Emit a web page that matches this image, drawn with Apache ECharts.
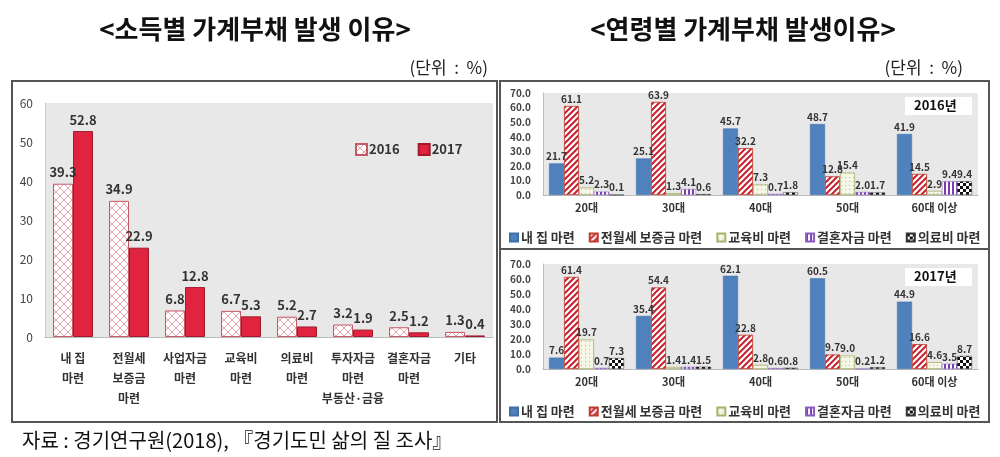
<!DOCTYPE html>
<html>
<head>
<meta charset="utf-8">
<script src="https://cdn.jsdelivr.net/npm/echarts@6/dist/echarts.min.js"></script>
<style>
  html, body { margin: 0; padding: 0; background: #fff; }
  #main { width: 1000px; height: 457px; }
</style>
</head>
<body>
<div id="main"></div>
<script>
// 소득별 가계부채 발생 이유
var incomeCategories = ['내 집\n마련', '전월세\n보증금\n마련', '사업자금\n마련', '교육비\n마련', '의료비\n마련', '투자자금\n마련\n부동산·금융', '결혼자금\n마련', '기타']
var income2016 = [39.3, 34.9, 6.8, 6.7, 5.2, 3.2, 2.5, 1.3]
var income2017 = [52.8, 22.9, 12.8, 5.3, 2.7, 1.9, 1.2, 0.4]
var incomeTicks = { min: 0, max: 60, interval: 10 }

// 연령별 가계부채 발생이유
var ageCategories = ['20대', '30대', '40대', '50대', '60대 이상']
var reasonNames = ['내 집 마련', '전월세 보증금 마련', '교육비 마련', '결혼자금 마련', '의료비 마련']
var home2016 = [21.7, 25.1, 45.7, 48.7, 41.9]
var deposit2016 = [61.1, 63.9, 32.2, 12.8, 14.5]
var edu2016 = [5.2, 1.3, 7.3, 15.4, 2.9]
var wedding2016 = [2.3, 4.1, 0.7, 2.0, 9.4]
var medical2016 = [0.1, 0.6, 1.8, 1.7, 9.4]
var home2017 = [7.6, 35.4, 62.1, 60.5, 44.9]
var deposit2017 = [61.4, 54.4, 22.8, 9.7, 16.6]
var edu2017 = [19.7, 1.4, 2.8, 9.0, 4.6]
var wedding2017 = [0.7, 1.4, 0.6, 0.2, 3.5]
var medical2017 = [7.3, 1.5, 0.8, 1.2, 8.7]
var ageTicks = { min: 0, max: 70, interval: 10 }

var FONT = '"Noto Sans CJK KR", "Noto Sans", sans-serif'

// 패턴 캔버스
function makePattern (w, h, draw) {
  var c = document.createElement('canvas')
  c.width = w
  c.height = h
  draw(c.getContext('2d'))
  return { image: c, repeat: 'repeat' }
}
var crossHatch = makePattern(8, 8, function (ctx) {
  ctx.fillStyle = '#fff'
  ctx.fillRect(0, 0, 8, 8)
  ctx.strokeStyle = '#e8a1aa'
  ctx.lineWidth = 1
  ctx.beginPath()
  ctx.moveTo(0, 0); ctx.lineTo(8, 8)
  ctx.moveTo(0, 8); ctx.lineTo(8, 0)
  ctx.stroke()
})
var redStripe = makePattern(6, 6, function (ctx) {
  ctx.fillStyle = '#fff'
  ctx.fillRect(0, 0, 6, 6)
  ctx.strokeStyle = '#c8202e'
  ctx.lineWidth = 2
  ctx.beginPath()
  ctx.moveTo(0, 6); ctx.lineTo(6, 0)
  ctx.moveTo(-3, 3); ctx.lineTo(3, -3)
  ctx.moveTo(3, 9); ctx.lineTo(9, 3)
  ctx.stroke()
})
var dots = makePattern(4, 4, function (ctx) {
  ctx.fillStyle = '#f6f6e6'
  ctx.fillRect(0, 0, 4, 4)
  ctx.fillStyle = '#bcbc92'
  ctx.fillRect(1, 1, 1, 1)
})
var purpleStripe = makePattern(4, 1, function (ctx) {
  ctx.fillStyle = '#fff'
  ctx.fillRect(0, 0, 4, 1)
  ctx.fillStyle = '#7a3cb0'
  ctx.fillRect(0, 0, 2, 1)
})
var checker = makePattern(6, 6, function (ctx) {
  ctx.fillStyle = '#fff'
  ctx.fillRect(0, 0, 6, 6)
  ctx.fillStyle = '#111'
  ctx.fillRect(0, 0, 3, 3)
  ctx.fillRect(3, 3, 3, 3)
})

var ageStyles = [
  { color: '#4f81bd', borderColor: '#3f6fa8', borderWidth: 0.5 },
  { color: redStripe, borderColor: '#c0392b', borderWidth: 0.8 },
  { color: dots, borderColor: '#a9b26a', borderWidth: 0.8 },
  { color: purpleStripe, borderColor: '#8a5cc0', borderWidth: 0.5 },
  { color: checker, borderColor: '#333', borderWidth: 0.5 }
]

function fmt1 (p) { return p.value.toFixed(1) }

function ageSeries (gridIdx, lists) {
  return lists.map(function (vals, i) {
    return {
      name: reasonNames[i],
      type: 'bar',
      xAxisIndex: gridIdx,
      yAxisIndex: gridIdx,
      data: vals,
      barWidth: 15,
      barGap: '0%',
      itemStyle: ageStyles[i],
      label: {
        show: true,
        position: 'top',
        distance: 2,
        formatter: fmt1,
        color: '#333',
        fontSize: 10,
        fontWeight: 'bold',
        fontFamily: FONT
      }
    }
  })
}

function ageXAxis (gridIdx) {
  return {
    type: 'category',
    gridIndex: gridIdx,
    data: ageCategories,
    axisLine: { lineStyle: { color: '#bbb' } },
    axisTick: { show: false },
    axisLabel: { color: '#333', fontSize: 11, fontWeight: 'bold', fontFamily: FONT, margin: 7 }
  }
}
function ageYAxis (gridIdx) {
  return {
    type: 'value',
    gridIndex: gridIdx,
    min: ageTicks.min,
    max: ageTicks.max,
    interval: ageTicks.interval,
    axisLine: { show: true, lineStyle: { color: '#bbb' } },
    axisTick: { show: false },
    splitLine: { show: false },
    axisLabel: {
      color: '#444',
      fontSize: 10,
      fontWeight: 'bold',
      fontFamily: FONT,
      margin: 12,
      formatter: function (v) { return v.toFixed(1) }
    }
  }
}
function ageLegend (top) {
  return {
    data: reasonNames,
    left: 504,
    top: top,
    itemWidth: 8,
    itemHeight: 8,
    itemGap: 14,
    icon: 'rect',
    textStyle: { color: '#333', fontSize: 13, fontWeight: 'bold', fontFamily: FONT, padding: [0, 0, 0, -2] }
  }
}

var myChart = echarts.init(document.getElementById('main'))

myChart.setOption({
  animation: false,
  backgroundColor: '#fff',
  grid: [
    { left: 45, right: 507, top: 103, bottom: 120, show: true, backgroundColor: '#e8e8e8', borderWidth: 0 },
    { left: 543, right: 22, top: 93, bottom: 262, show: true, backgroundColor: '#e8e8e8', borderWidth: 0 },
    { left: 543, right: 22, top: 264, bottom: 88, show: true, backgroundColor: '#e8e8e8', borderWidth: 0 }
  ],
  legend: [
    {
      data: ['2016', '2017'],
      left: 350,
      top: 138,
      itemWidth: 11,
      itemHeight: 11,
      itemGap: 18,
      icon: 'rect',
      textStyle: { color: '#333', fontSize: 13, fontWeight: 'bold', fontFamily: FONT, padding: [0, 0, 0, -3] }
    },
    ageLegend(226),
    ageLegend(400)
  ],
  xAxis: [
    {
      type: 'category',
      gridIndex: 0,
      data: incomeCategories,
      axisLine: { lineStyle: { color: '#bbb' } },
      axisTick: { show: false },
      axisLabel: { color: '#333', fontSize: 12, fontWeight: 'bold', fontFamily: FONT, lineHeight: 20, margin: 11, interval: 0 }
    },
    ageXAxis(1),
    ageXAxis(2)
  ],
  yAxis: [
    {
      type: 'value',
      gridIndex: 0,
      min: incomeTicks.min,
      max: incomeTicks.max,
      interval: incomeTicks.interval,
      axisLine: { show: true, lineStyle: { color: '#ccc' } },
      axisTick: { show: false },
      splitLine: { show: false },
      axisLabel: { color: '#444', fontSize: 12, fontFamily: FONT, margin: 12 }
    },
    ageYAxis(1),
    ageYAxis(2)
  ],
  series: [
    {
      name: '2016',
      type: 'bar',
      xAxisIndex: 0,
      yAxisIndex: 0,
      data: income2016,
      barWidth: 20,
      barGap: '0%',
      itemStyle: { color: crossHatch, borderColor: '#c45a66', borderWidth: 1 },
      label: { show: true, position: 'top', distance: 5, formatter: fmt1, color: '#333', fontSize: 13, fontWeight: 'bold', fontFamily: FONT }
    },
    {
      name: '2017',
      type: 'bar',
      xAxisIndex: 0,
      yAxisIndex: 0,
      data: income2017,
      barWidth: 20,
      barGap: '0%',
      itemStyle: { color: '#e0243f', borderColor: '#9e1a2c', borderWidth: 1 },
      label: { show: true, position: 'top', distance: 5, formatter: fmt1, color: '#333', fontSize: 13, fontWeight: 'bold', fontFamily: FONT }
    }
  ].concat(ageSeries(1, [home2016, deposit2016, edu2016, wedding2016, medical2016]))
    .concat(ageSeries(2, [home2017, deposit2017, edu2017, wedding2017, medical2017])),
  graphic: [
    // 제목
    { type: 'text', x: 255, y: 29, z: 10, style: { text: '<소득별 가계부채 발생 이유>', font: 'bold 26px ' + FONT, fill: '#111', align: 'center', verticalAlign: 'middle' } },
    { type: 'text', x: 743, y: 29, z: 10, style: { text: '<연령별 가계부채 발생이유>', font: 'bold 26px ' + FONT, fill: '#111', align: 'center', verticalAlign: 'middle' } },
    { type: 'text', x: 488, y: 68, z: 10, style: { text: '(단위  :  %)', font: '17px ' + FONT, fill: '#222', align: 'right', verticalAlign: 'middle' } },
    { type: 'text', x: 963, y: 68, z: 10, style: { text: '(단위  :  %)', font: '17px ' + FONT, fill: '#222', align: 'right', verticalAlign: 'middle' } },
    // 테두리
    { type: 'rect', z: -1, shape: { x: 12, y: 81, width: 485, height: 341 }, style: { fill: 'none', stroke: '#555', lineWidth: 2 } },
    { type: 'rect', z: -1, shape: { x: 500, y: 81, width: 489, height: 341 }, style: { fill: 'none', stroke: '#555', lineWidth: 2 } },
    { type: 'line', z: -1, shape: { x1: 500, y1: 249, x2: 989, y2: 249 }, style: { stroke: '#555', lineWidth: 2 } },
    // 연도 상자
    { type: 'rect', z: 10, shape: { x: 905, y: 97, width: 67, height: 18 }, style: { fill: '#fff' } },
    { type: 'text', z: 11, left: 914, top: 99, style: { text: '2016년', font: 'bold 13px ' + FONT, fill: '#111' } },
    { type: 'rect', z: 10, shape: { x: 905, y: 268, width: 67, height: 18 }, style: { fill: '#fff' } },
    { type: 'text', z: 11, left: 914, top: 270, style: { text: '2017년', font: 'bold 13px ' + FONT, fill: '#111' } },
    // 자료
    { type: 'text', x: 22, y: 440, z: 10, style: { text: '자료 : 경기연구원(2018), 『경기도민 삶의 질 조사』', font: '20px ' + FONT, fill: '#111', verticalAlign: 'middle' } }
  ]
})
</script>
</body>
</html>
